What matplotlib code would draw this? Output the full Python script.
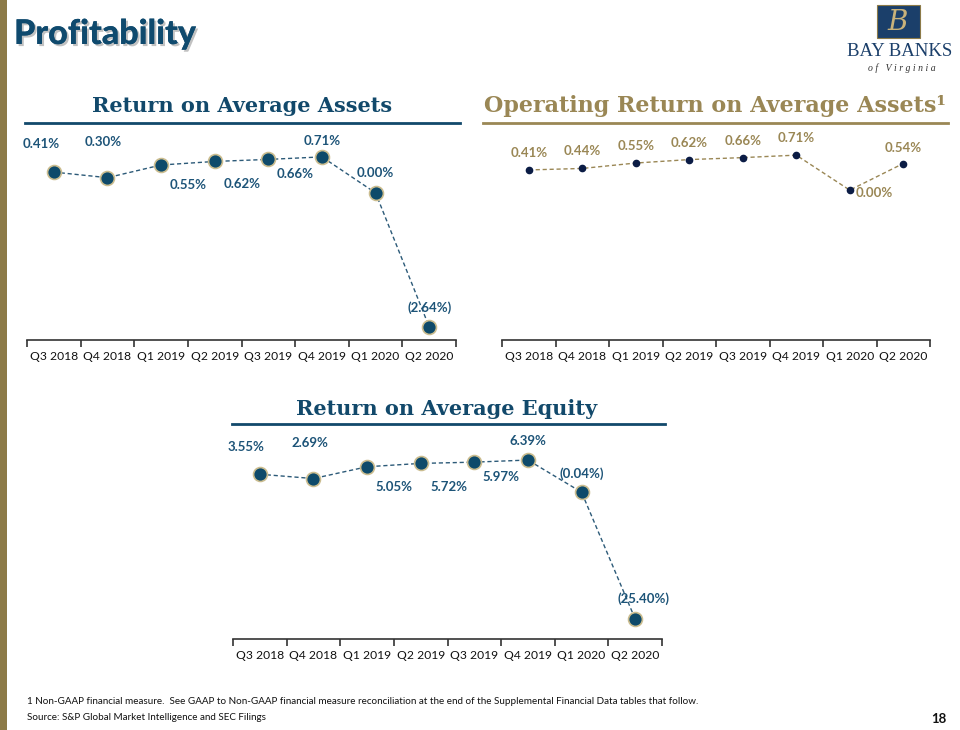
import matplotlib
matplotlib.use("Agg")
import matplotlib.pyplot as plt
import matplotlib.patheffects as pe
from matplotlib.lines import Line2D
from matplotlib.patches import Rectangle
import numpy as np

quarters = ["Q3 2018", "Q4 2018", "Q1 2019", "Q2 2019",
            "Q3 2019", "Q4 2019", "Q1 2020", "Q2 2020"]
roaa = [0.41, 0.30, 0.55, 0.62, 0.66, 0.71, 0.00, -2.64]
op_roaa = [0.41, 0.44, 0.55, 0.62, 0.66, 0.71, 0.00, 0.54]
roae = [3.55, 2.69, 5.05, 5.72, 5.97, 6.39, -0.04, -25.40]

BLUE = "#12496b"
LABEL_BLUE = "#1d5478"
GOLD = "#9a8755"
NAVY = "#0b1c45"
W, H = 960, 730


def fmt(v):
    return f"({abs(v):.2f}%)" if v < 0 else f"{v:.2f}%"


def px_axes(x0, y0, x1, y1):
    # pixel box (top-left origin) -> figure axes
    return fig.add_axes([x0 / W, 1 - y1 / H, (x1 - x0) / W, (y1 - y0) / H])


def hline(x0, x1, y, color, lw=2):
    fig.add_artist(Line2D([x0 / W, x1 / W], [1 - y / H, 1 - y / H],
                          color=color, lw=lw, transform=fig.transFigure))


def style_axis(ax, ylim):
    n = len(quarters)
    ax.set_xlim(-0.5, n - 0.5)
    ax.set_ylim(*ylim)
    for s in ["top", "right", "left"]:
        ax.spines[s].set_visible(False)
    ax.spines["bottom"].set_color("#333333")
    ax.spines["bottom"].set_linewidth(1.2)
    ax.set_yticks([])
    ax.set_xticks(np.arange(n))
    ax.set_xticklabels(quarters, fontsize=8.7, family="Lato", color="#111111")
    ax.tick_params(axis="x", which="major", length=0, pad=8)
    ax.set_xticks(np.arange(-0.5, n), minor=True)
    ax.tick_params(axis="x", which="minor", length=5, width=1.2,
                   color="#333333", direction="out")
    ax.patch.set_alpha(0)


def label_points(ax, vals, offsets, color):
    for i, (v, (dx, dy)) in enumerate(zip(vals, offsets)):
        ax.annotate(fmt(v), (i, v), xytext=(dx * 0.72, -dy * 0.72),
                    textcoords="offset points", ha="center", va="center",
                    fontsize=9.5, family="Lato", fontweight="bold",
                    color=color, annotation_clip=False)


fig = plt.figure(figsize=(9.6, 7.3), dpi=100)
fig.patch.set_facecolor("white")

# gold bar at left edge
fig.add_artist(Rectangle((0, 0), 7 / W, 1, transform=fig.transFigure,
                         color="#8c7a48", lw=0))

# headline
fig.text(14 / W, 1 - 34 / H, "Profitability", fontsize=24.5, family="Lato",
         fontweight="black", color="#0f4a6e", va="center", ha="left",
         path_effects=[pe.withSimplePatchShadow(offset=(1.5, -1.5),
                                                shadow_rgbFace="#999999",
                                                alpha=0.6), pe.Normal()])

# logo
fig.add_artist(Rectangle((877 / W, 1 - 38 / H), 43 / W, 33 / H,
                         transform=fig.transFigure, facecolor="#1b3f6a",
                         edgecolor="#8c7a48", lw=0.8))
fig.text(898 / W, 1 - 22 / H, "B", fontsize=20, family="DejaVu Serif",
         style="italic", color="#c9b27a", ha="center", va="center")
fig.text(900 / W, 1 - 52 / H, "BAY BANKS", fontsize=13.5,
         family="Liberation Serif", color="#1b3f6a", ha="center", va="center")
fig.text(902 / W, 1 - 68 / H, "o f   V i r g i n i a", fontsize=7,
         family="Liberation Serif", style="italic", color="#333333",
         ha="center", va="center")

# section titles
fig.text(242 / W, 1 - 106 / H, "Return on Average Assets", fontsize=15,
         family="DejaVu Serif", fontweight="bold", color=BLUE,
         ha="center", va="center")
hline(25, 460, 123, BLUE)
fig.text(715 / W, 1 - 106 / H, "Operating Return on Average Assets\u00b9",
         fontsize=16, family="DejaVu Serif", fontweight="bold", color=GOLD,
         ha="center", va="center")
hline(483, 948, 123, GOLD)
fig.text(447 / W, 1 - 409 / H, "Return on Average Equity", fontsize=15,
         family="DejaVu Serif", fontweight="bold", color=BLUE,
         ha="center", va="center")
hline(232, 665, 424, BLUE)

x = np.arange(len(quarters))
big_marker = dict(marker="o", markersize=10, markerfacecolor="#0e4a6a",
                  markeredgecolor="#cbbd8f", markeredgewidth=1.2)

# Return on Average Assets
ax1 = px_axes(27, 130, 456, 340)
style_axis(ax1, (-2.9, 1.24))
ax1.plot(x, roaa, ls=(0, (3, 2)), lw=1, color="#2c5a78", **big_marker)
label_points(ax1, roaa, [(-13, -28), (-4, -36), (27, 20), (27, 23),
                         (27, 15), (0, -16), (0, -20), (0, -19)], LABEL_BLUE)

# Operating Return on Average Assets
ax2 = px_axes(502, 130, 930, 340)
style_axis(ax2, (-3.04, 1.22))
ax2.plot(x, op_roaa, ls=(0, (3, 2)), lw=1, color=GOLD, marker="o",
         markersize=4.5, markerfacecolor=NAVY, markeredgecolor=NAVY)
label_points(ax2, op_roaa, [(0, -17)] * 6 + [(25, 3), (0, -16)], GOLD)

# Return on Average Equity
ax3 = px_axes(233, 430, 662, 639)
style_axis(ax3, (-29.4, 12.4))
ax3.plot(x, roae, ls=(0, (3, 2)), lw=1, color="#2c5a78", **big_marker)
label_points(ax3, roae, [(-14, -27), (-4, -36), (27, 20), (28, 24),
                         (27, 15), (0, -19), (0, -19), (8, -20)], LABEL_BLUE)

# footer
fig.text(27 / W, 1 - 702 / H,
         "1 Non-GAAP financial measure.  See GAAP to Non-GAAP financial measure "
         "reconciliation at the end of the Supplemental Financial Data tables "
         "that follow.", fontsize=7.1, family="Lato", color="#111111",
         va="center")
fig.text(27 / W, 1 - 718 / H, "Source: S&P Global Market Intelligence and SEC Filings",
         fontsize=7.1, family="Lato", color="#111111", va="center")
fig.text(946 / W, 1 - 719 / H, "18", fontsize=9.5, family="Lato",
         fontweight="bold", color="#111111", ha="right", va="center")

fig.savefig("out.png", dpi=100)
